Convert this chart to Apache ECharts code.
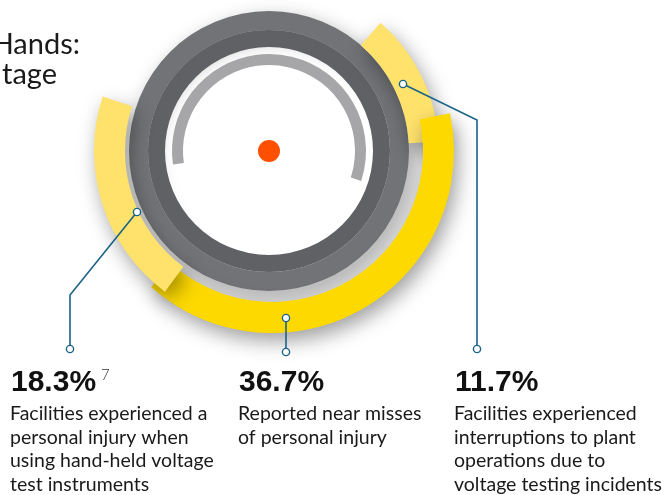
<!DOCTYPE html>
<html>
<head>
<meta charset="utf-8">
<script src="https://cdn.jsdelivr.net/npm/echarts@6/dist/echarts.min.js"></script>
<style>
  html, body { margin: 0; padding: 0; background: #fff; }
  #chart { width: 666px; height: 495px; }
</style>
</head>
<body>
<div id="chart"></div>
<script>
// data
const values = [18.3, 36.7, 11.7];
const valueLabels = ['18.3%', '36.7%', '11.7%'];
const descriptions = [
  'Facilities experienced a\npersonal injury when\nusing hand-held voltage\ntest instruments',
  'Reported near misses\nof personal injury',
  'Facilities experienced\ninterruptions to plant\noperations due to\nvoltage testing incidents'
];

// part of the circle that counts as 360 degrees
const ANGLE_FULL = 92;

const CX = 269, CY = 151;
const LEADER = '#1b6387';

const chart = echarts.init(document.getElementById('chart'));

// one arc = a pie with the value and a see-through remainder
function arc(idx, center, radius, startAngle, color, z) {
  return {
    type: 'pie',
    center: center,
    radius: radius,
    startAngle: startAngle,
    clockwise: true,
    silent: true,
    animation: false,
    z: z,
    label: { show: false },
    labelLine: { show: false },
    emphasis: { disabled: true },
    data: [
      {
        value: values[idx],
        itemStyle: {
          color: color,
          shadowBlur: 20,
          shadowColor: 'rgba(0,0,0,0.38)',
          shadowOffsetX: 4,
          shadowOffsetY: 8
        }
      },
      { value: ANGLE_FULL - values[idx], itemStyle: { color: 'rgba(0,0,0,0)' } }
    ]
  };
}

const graphics = [
  // grey rings
  { type: 'ring', z: 1, shape: { cx: CX, cy: CY, r: 140, r0: 121 },
    style: { fill: '#717376', shadowBlur: 20, shadowColor: 'rgba(0,0,0,0.38)', shadowOffsetX: 5, shadowOffsetY: 8 } },
  { type: 'ring', z: 1, shape: { cx: CX, cy: CY, r: 121, r0: 104 },
    style: { fill: '#5f6165' } },
  { type: 'arc', z: 1,
    shape: { cx: CX, cy: CY, r: 91.5, startAngle: -188 * Math.PI / 180, endAngle: 18 * Math.PI / 180, clockwise: true },
    style: { stroke: '#a6a6a9', lineWidth: 11, fill: null } },
  { type: 'circle', z: 1, shape: { cx: CX, cy: CY, r: 11 }, style: { fill: '#fe5000' } },

  // title (cut off at the left edge)
  { type: 'text', z: 5, style: { text: 'Hands:', x: 80, y: 30, textAlign: 'right', font: '29px Lato', fill: '#1a1a1a' } },
  { type: 'text', z: 5, style: { text: 'tage', x: 57, y: 60, textAlign: 'right', font: '29px Lato', fill: '#1a1a1a' } }
];

// leader lines
const leaders = [
  [[137, 212], [70, 295], [70, 349]],
  [[286, 318], [286, 352]],
  [[403, 84], [477, 120], [477, 349]]
];
leaders.forEach(function (pts) {
  graphics.push({ type: 'polyline', z: 20, shape: { points: pts }, style: { stroke: LEADER, lineWidth: 1.6, fill: null } });
  [pts[0], pts[pts.length - 1]].forEach(function (p) {
    graphics.push({ type: 'circle', z: 21, shape: { cx: p[0], cy: p[1], r: 3.6 }, style: { fill: '#fff', stroke: LEADER, lineWidth: 1.4 } });
  });
});

// text blocks under the chart
const colX = [10, 238, 454];
values.forEach(function (v, i) {
  graphics.push({ type: 'text', z: 5, style: {
    text: valueLabels[i], x: colX[i] + 1, y: 368, font: 'bold 30px "Liberation Sans"', fill: '#111'
  } });
  graphics.push({ type: 'text', z: 5, style: {
    text: descriptions[i], x: colX[i], y: 402, font: '19.5px Lato', lineHeight: 23.5, fill: '#1a1a1a'
  } });
});
graphics.push({ type: 'text', z: 5, style: { text: '7', x: 101, y: 368, font: '300 15px Lato', fill: '#333' } });

chart.setOption({
  animation: false,
  backgroundColor: '#fff',
  series: [
    arc(2, [CX, CY], [140, 170], 49, '#fee26c', 2),
    arc(1, [272, CY], [151, 182], 12, '#fdd900', 3),
    arc(0, [CX, CY], [144, 175], 233.5, '#fee26c', 4)
  ],
  graphic: graphics
});
</script>
</body>
</html>
